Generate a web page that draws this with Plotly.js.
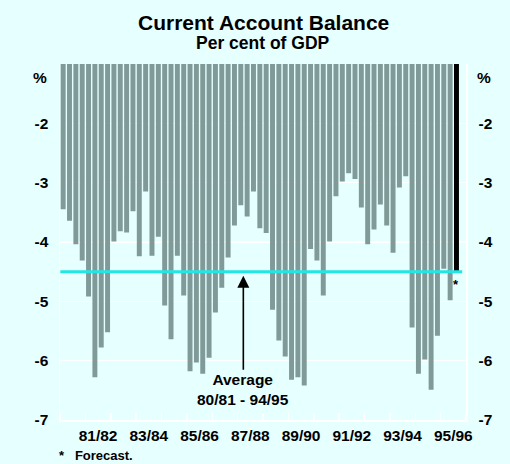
<!DOCTYPE html>
<html>
<head>
<meta charset="utf-8">
<script src="https://cdn.plot.ly/plotly-3.0.1.min.js"></script>
<style>html,body{margin:0;padding:0;background:#E6FFFF;}#chart{width:510px;height:464px;}</style>
</head>
<body>
<div id="chart"></div>
<script>
// Quarterly current account balance, per cent of GDP, 1980/81 Q1 onwards
const actual = [
  -3.45,-3.64,-4.04,-4.31,-4.92,-6.28,-5.78,-5.52,
  -3.99,-3.82,-3.84,-3.48,-4.24,-3.15,-4.23,-3.91,
  -5.07,-5.64,-4.23,-4.90,-6.18,-6.03,-6.22,-5.95,
  -5.19,-4.77,-4.26,-3.72,-3.38,-3.57,-3.15,-3.77,
  -3.85,-5.14,-5.66,-5.93,-6.32,-6.28,-6.42,-4.12,
  -4.31,-4.90,-3.99,-3.23,-2.98,-2.84,-2.94,-3.42,
  -4.04,-3.79,-3.37,-3.72,-4.18,-3.08,-2.89,-5.44,
  -6.22,-5.98,-6.49,-5.58,-4.45,-4.98
];
const forecast = [-4.5];
const average = -4.5;
const years = ['80/81','81/82','82/83','83/84','84/85','85/86','86/87','87/88',
               '88/89','89/90','90/91','91/92','92/93','93/94','94/95','95/96'];
const labelledYears = ['81/82','83/84','85/86','87/88','89/90','91/92','93/94','95/96'];
const yTicks = [-2,-3,-4,-5,-6,-7];

const qPerYear = 4;
const xActual = actual.map((_, i) => i);
const xForecast = forecast.map((_, i) => actual.length + i);
const yearCentre = y => years.indexOf(y) * qPerYear + (qPerYear - 1) / 2;
const boundaries = years.map((_, i) => i * qPerYear - 0.5).concat([years.length * qPerYear - 0.5]);
const b = s => '<b>' + s + '</b>';

const fam = 'Arial, "Liberation Sans", sans-serif';
const bg = '#E6FFFF';
const tf = {family: fam, size: 15.5, color: '#000'};

const traces = [
  {type: 'bar', x: xActual, y: actual, marker: {color: '#7F9A98', line: {width: 0}}, hoverinfo: 'skip'},
  {type: 'bar', x: xForecast, y: forecast, marker: {color: '#000000', line: {width: 0}}, hoverinfo: 'skip'},
  {type: 'scatter', mode: 'lines', x: [], y: [], yaxis: 'y2', showlegend: false}
];

const W = 510, H = 464, M = {l: 60, r: 44, t: 64, b: 44};
const plotH = H - M.t - M.b;
const plotW = W - M.l - M.r;
const pxToPaper = py => (H - M.b - py) / plotH;

const layout = {
  width: W, height: H,
  margin: M,
  paper_bgcolor: bg, plot_bgcolor: bg,
  showlegend: false,
  bargap: 0.22,
  font: {family: fam, color: '#000'},
  xaxis: {
    range: [-0.5, years.length * qPerYear - 0.5],
    tickvals: labelledYears.map(yearCentre),
    ticktext: labelledYears.map(b),
    ticks: '', showgrid: false, zeroline: false,
    showline: true, linecolor: '#FFFFFF', linewidth: 2,
    tickfont: tf,
    ticklabelstandoff: 0,
    minor: {tickvals: boundaries, ticks: 'inside', ticklen: 7, tickcolor: '#FFFFFF', tickwidth: 1.5, showgrid: false}
  },
  yaxis: {
    range: [-7, -1], tickvals: yTicks, ticktext: yTicks.map(v => b(String(v))),
    showgrid: true, gridcolor: '#FFFFFF', gridwidth: 1.5, zeroline: false,
    showline: true, linecolor: '#FFFFFF', linewidth: 1.5,
    ticks: '', ticklabelstandoff: 7,
    tickfont: tf
  },
  yaxis2: {
    range: [-7, -1], overlaying: 'y', side: 'right', tickvals: yTicks, ticktext: yTicks.map(v => b(String(v))),
    showgrid: false, zeroline: false, showline: true, linecolor: '#FFFFFF', linewidth: 1.5,
    ticks: '', ticklabelstandoff: 8,
    tickfont: tf
  },
  shapes: [
    {type: 'line', xref: 'x', yref: 'y', x0: -0.45, x1: actual.length + forecast.length - 0.1,
     y0: average, y1: average, line: {color: '#22E6E6', width: 3}, layer: 'above'}
  ],
  annotations: [
    {xref: 'paper', yref: 'paper', x: 0.5, y: pxToPaper(22), yanchor: 'middle', text: b('Current Account Balance'),
     showarrow: false, font: {family: fam, size: 21, color: '#000'}},
    {xref: 'paper', yref: 'paper', x: 0.5, y: pxToPaper(43), yanchor: 'middle', text: b('Per cent of GDP'),
     showarrow: false, font: {family: fam, size: 17.5, color: '#000'}},
    {xref: 'paper', yref: 'paper', x: -11 / plotW, y: pxToPaper(77), text: b('%'), showarrow: false,
     font: tf, xanchor: 'right', yanchor: 'middle'},
    {xref: 'paper', yref: 'paper', x: 1 + 9 / plotW, y: pxToPaper(77), text: b('%'), showarrow: false,
     font: tf, xanchor: 'left', yanchor: 'middle'},
    {xref: 'x', yref: 'y', x: 28.4, y: average - 0.07, ax: 0, ay: 114,
     text: b('Average') + '<br>' + b('80/81 - 94/95'), showarrow: true, arrowhead: 2, arrowsize: 1.5, arrowwidth: 1.6,
     arrowcolor: '#000', font: tf},
    {xref: 'x', yref: 'y', x: xForecast[0], y: forecast[0] - 0.22, text: b('*'), showarrow: false,
     font: {family: fam, size: 13, color: '#000'}},
    {xref: 'paper', yref: 'paper', x: -0.008, y: pxToPaper(455), xanchor: 'left', yanchor: 'middle',
     text: b('*&nbsp;&nbsp;&nbsp;Forecast.'), showarrow: false,
     font: {family: fam, size: 13, color: '#000'}}
  ]
};

Plotly.newPlot('chart', traces, layout, {displayModeBar: false, staticPlot: true});
</script>
</body>
</html>
